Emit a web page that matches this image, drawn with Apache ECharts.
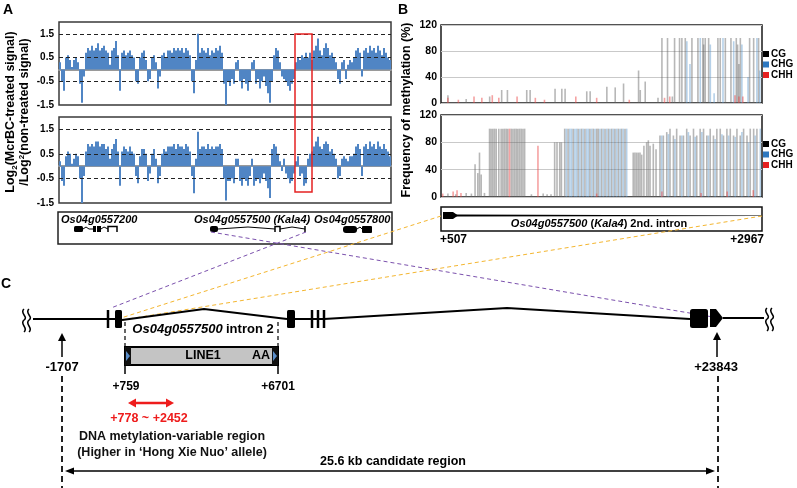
<!DOCTYPE html>
<html><head><meta charset="utf-8">
<script src="https://cdn.jsdelivr.net/npm/echarts@6/dist/echarts.min.js"></script>
<style>html,body{margin:0;padding:0;background:#fff}#c{width:797px;height:488px}</style>
</head><body><div id="c"></div>
<script>
// ---------- DATA ----------
const aTicks = [-1.5, -0.5, 0.5, 1.5];
const aTop = [
0.3,-0.5,-0.9,0.5,0.6,0.4,0.1,0.4,0.5,0.3,
-0.6,-1.4,-0.3,0.7,0.9,0.8,1.0,0.8,0.9,1.1,
0.8,0.9,1.0,0.8,0.7,0.2,0.8,0.9,1.2,0.6,
-0.9,0.7,0.8,0.6,0.7,0.8,0.6,0.5,-0.5,-0.6,
0.5,0.7,0.8,0.4,-0.5,-0.4,0.5,0.6,0.3,-0.8,
-0.3,0.6,0.7,0.5,0.8,
0.8,0.7,0.9,0.8,0.9,0.8,0.9,0.7,0.9,0.8,
0.6,-0.5,-1.0,0.4,1.5,0.7,0.9,0.8,0.7,0.9,
0.6,0.8,0.7,0.9,0.8,1.0,0.7,-0.6,-1.5,-0.5,
-0.7,-0.4,-0.6,0.3,0.4,-0.5,-0.8,-0.4,-0.6,-0.9,
-0.5,0.3,0.4,-0.6,-0.4,-0.8,-0.5,-0.3,-0.7,-1.0,
-1.4,-0.5,0.6,0.9,0.8,
0.3,-0.3,-0.4,-0.5,-0.7,-0.9,-0.6,-0.4,0.3,0.5,
0.4,0.6,0.5,0.7,0.5,0.7,0.4,0.8,1.0,1.3,
0.8,0.6,0.9,1.1,0.9,0.6,0.7,0.5,0.3,-0.4,
-0.6,0.3,0.4,-0.4,0.2,0.4,0.3,0.5,0.8,0.9,
0.7,-0.3,0.8,0.9,0.7,1.0,0.8,0.9,0.7,1.0,
0.8,0.6,0.9,0.7,0.5,0.4
];
const aBot = [
0.2,-0.6,-0.8,0.4,0.6,0.5,0.1,0.3,0.5,0.4,
-0.5,-1.5,-0.4,0.6,0.9,0.8,0.9,0.8,1.0,1.0,
0.8,0.9,0.9,0.7,0.8,0.3,0.7,0.9,1.1,0.6,
-0.8,0.6,0.8,0.7,0.6,0.8,0.6,0.5,-0.4,-0.7,
0.4,0.7,0.7,0.5,-0.6,-0.3,0.5,0.7,0.3,-0.7,
-0.4,0.5,0.7,0.6,0.8,
0.8,0.8,0.9,0.7,0.9,0.8,0.8,0.7,0.9,0.8,
0.6,-0.4,-1.1,0.3,1.4,0.7,0.8,0.8,0.7,0.9,
0.7,0.8,0.7,0.8,0.8,0.9,0.7,-0.5,-1.4,-0.6,
-0.6,-0.5,-0.7,0.3,0.3,-0.6,-0.8,-0.5,-0.6,-0.8,
-0.4,0.3,-0.8,-0.6,-0.5,-0.7,-0.5,-0.3,-0.6,-0.9,
-1.3,0.7,0.9,0.8,0.5,
0.2,-0.2,0.3,-0.3,-0.5,-0.7,-0.6,-0.3,
0.2,0.4,-0.4,-0.3,-0.8,-0.7,0.3,0.5,0.6,
0.8,1.0,1.2,0.8,0.7,0.9,1.0,0.9,0.6,0.7,
0.5,0.3,-0.5,-0.4,0.3,0.4,0.3,0.2,0.4,0.4,
0.5,0.8,0.9,0.7,-0.4,0.8,0.9,0.7,1.0,0.8,
0.9,0.7,1.0,0.8,0.7,0.9,0.7,0.6,0.4
];
const bRange = [507, 2967];
const bTicks = [0, 40, 80, 120];
const contexts = ['CG', 'CHG', 'CHH'];
const cgTop = [[560,12],[700,6],[880,10],[972,20],[1016,20],[1164,20],[1190,20],[1381,22],[1433,22],[1458,22],[1624,18],[1650,18],[1778,25],[1842,24],[1906,30],[2021,50],[2034,20],[2072,33],[2170,8],[2200,100],[2243,100],[2280,10],[2297,100],[2335,100],[2353,100],[2379,100],[2430,100],[2476,100],[2514,100],[2520,90],[2532,100],[2558,100],[2629,100],[2647,100],[2686,100],[2729,100],[2770,100],[2780,90],[2790,60],[2801,100],[2872,100],[2903,100],[2941,100]];
const chgTop = [[2391,95],[2415,60],[2494,100],[2571,90],[2600,15],[2668,100],[2750,95],[2813,90],[2860,40],[2928,100],[2950,50]];
const chhTop = [[560,8],[640,5],[760,10],[820,8],[900,12],[950,8],[1090,10],[1230,8],[1300,5],[1540,10],[1700,8],[1950,5],[2220,8],[2260,10],[2760,12],[2790,10],[2820,10]];
const cgBot = [[560,5],[620,4],[700,6],[740,5],[768,48],[789,35],[802,65],[815,33],[840,6],
[879,100],[891,100],[904,100],[917,100],[930,100],[950,100],[968,100],[981,100],[994,100],[1007,100],[1019,100],[1045,100],[1058,100],[1071,100],[1084,100],[1096,100],[1109,100],[1122,100],[1135,100],[1148,100],
[1200,4],[1290,5],[1320,4],[1350,4],[1378,80],[1396,80],[1417,80],[1430,80],
[1455,100],[1481,100],[1520,100],[1558,100],[1584,100],[1610,100],[1648,100],[1674,100],[1700,100],[1712,100],[1738,100],[1764,100],[1790,100],[1815,100],[1840,100],[1866,100],[1891,100],[1917,100],
[1980,65],[1993,65],[2006,65],[2019,65],[2032,65],[2045,62],[2062,75],[2083,80],[2096,83],[2109,75],[2134,78],[2155,70],
[2185,90],[2211,90],[2237,95],[2262,100],[2288,90],[2313,100],[2339,90],[2365,90],[2390,100],[2416,90],[2442,100],[2467,90],[2493,100],[2519,100],[2544,90],[2570,100],[2595,90],[2621,100],[2647,100],[2672,90],[2698,100],[2724,100],[2749,90],[2775,100],[2800,90],[2826,100],[2852,90],[2877,100],[2903,100],[2928,100]];
const chgBot = [[1468,100],[1494,100],[1507,100],[1533,100],[1546,100],[1571,100],[1597,100],[1623,100],[1636,100],[1661,100],[1687,100],[1725,100],[1751,100],[1777,100],[1802,100],[1828,100],[1853,100],[1879,100],[1904,100],[1930,100],
[2198,90],[2250,92],[2300,85],[2352,90],[2403,95],[2455,88],[2506,95],[2557,90],[2608,85],[2660,92],[2711,90],[2762,88],[2813,95],[2864,80],[2915,90],[2954,100]];
const chhBot = [[520,5],[600,8],[630,10],[660,6],[1032,100],[1250,75],[1700,5],[2200,8],[2500,6],[2700,8],[2900,10]];
const geneNames = ['Os04g0557200', 'Os04g0557500 (Kala4)', 'Os04g0557800'];
const coordLabels = ['+507', '+2967', '-1707', '+23843', '+759', '+6701'];

// ---------- RENDER ----------
const F = '"Liberation Sans", Arial, sans-serif';
const aBins = aTop.map((_, i) => i);
const chart = echarts.init(document.getElementById('c'), null, {renderer: 'canvas'});

const G = [];
const st = (base, s) => Object.assign(base, s || {});
const L = (x1,y1,x2,y2,s) => G.push({type:'line', silent:true, z:10, shape:{x1,y1,x2,y2}, style:st({stroke:'#000', lineWidth:1}, s)});
const T = (x,y,t,s,extra) => G.push(Object.assign({type:'text', silent:true, z:12, x, y, style:st({text:t, fill:'#000', font:'bold 12px '+F, textAlign:'center', textVerticalAlign:'middle', align:'center', verticalAlign:'middle'}, s)}, extra || {}));
const R = (x,y,w,h,s,r) => G.push({type:'rect', silent:true, z:10, shape:{x,y,width:w,height:h,r:r||0}, style:st({fill:'#000'}, s)});
const P = (pts,s) => G.push({type:'polygon', silent:true, z:10, shape:{points:pts}, style:st({fill:'#000'}, s)});
const PL = (pts,s) => G.push({type:'polyline', silent:true, z:10, shape:{points:pts}, style:st({stroke:'#000', lineWidth:1, fill:null}, s)});
const BZ = (x1,y1,c1x,c1y,c2x,c2y,x2,y2,s) => G.push({type:'bezierCurve', silent:true, z:10, shape:{x1,y1,cpx1:c1x,cpy1:c1y,cpx2:c2x,cpy2:c2y,x2,y2}, style:st({stroke:'#000', lineWidth:1.5, fill:null}, s)});
const head = (xt,yt,dx,dy,len,w,color) => {
  const bx = xt-dx*len, by = yt-dy*len, px = -dy, py = dx;
  P([[xt,yt],[bx+px*w/2,by+py*w/2],[bx-px*w/2,by-py*w/2]], {fill:color});
};
const squiggle = (x, y) => {
  BZ(x,y-11,x-5,y-7,x+5,y-3,x,y, {});
  BZ(x,y,x-5,y+4,x+5,y+8,x,y+12, {});
};

// panel letters
T(3,3,'A',{font:'bold 14px '+F, textAlign:'left', align:'left', textVerticalAlign:'top', verticalAlign:'top'});
T(398,3,'B',{font:'bold 14px '+F, textAlign:'left', align:'left', textVerticalAlign:'top', verticalAlign:'top'});
T(1,277,'C',{font:'bold 14px '+F, textAlign:'left', align:'left', textVerticalAlign:'top', verticalAlign:'top'});

// A titles
const richA = {n:{font:'bold 12.5px '+F, fill:'#000', lineHeight:15}, s:{font:'bold 8px '+F, fill:'#000', verticalAlign:'bottom'}, p:{font:'bold 8px '+F, fill:'#000', verticalAlign:'top'}};
T(11,112,'{n|Log}{s|2}{n|(McrBC-treated signal)}',{rich:richA},{rotation:Math.PI/2});
T(25,112,'{n|/Log}{p|2}{n|(non-treated signal)}',{rich:richA},{rotation:Math.PI/2});
// B title
T(407,110,'Frequency of methylation (%)',{font:'bold 12.5px '+F},{rotation:Math.PI/2});

// red box
R(295,34,17,158,{fill:null, stroke:'#e52222', lineWidth:1.5});

// gene box A
R(58,212,334,32,{fill:null, stroke:'#222', lineWidth:1.5});
T(61,220,geneNames[0],{font:'italic bold 11px '+F, textAlign:'left', align:'left'});
T(194,220,geneNames[1],{font:'italic bold 11px '+F, textAlign:'left', align:'left'});
T(314,220,geneNames[2],{font:'italic bold 11px '+F, textAlign:'left', align:'left'});
R(74,226,9,6,{},1.5); PL([[83,229],[86,227],[89,229],[93,229]]); R(93,226,3,6); R(97,226,4,6);
PL([[101,229],[104,227],[108,229]]); PL([[108,232],[108,226.5],[117,226.5],[117,232]],{lineWidth:1.5});
R(210,226,8,6,{},2); PL([[218,229],[248,227],[275,229]]);
PL([[275,232],[275,226.5],[280,226.5],[280,232]],{lineWidth:1.5}); PL([[280,229],[292,227],[305,229]]);
L(305,226,305,232,{lineWidth:1.5});
R(343,226,14,7,{},3); PL([[357,229],[360,227],[362,229]]); R(362,226,10,7,{},1);

// B intron box
R(441,207,321,24,{fill:null, stroke:'#111', lineWidth:1.5});
P([[443,212],[453,212],[458,215.5],[453,219],[443,219]]);
P([[456,214.6],[762,215.4],[762,215.9],[456,216.6]]);
T(599,224,'{i|Os04g0557500} {n|(}{i|Kala4}{n|) 2nd. intron}',{rich:{i:{font:'italic bold 11px '+F, fill:'#000'}, n:{font:'bold 11px '+F, fill:'#000'}}});
T(440,240,coordLabels[0],{textAlign:'left', align:'left'});
T(764,240,coordLabels[1],{textAlign:'right', align:'right'});

// connecting dashed lines
const PUR = '#7b51ad', YEL = '#f4b630';
L(211,232,719,318,{stroke:PUR, lineDash:[4,3]});
L(306,232,111,308,{stroke:PUR, lineDash:[4,3]});
L(441,216,121,318,{stroke:YEL, lineDash:[4,3]});
L(762,216,122,320,{stroke:YEL, lineDash:[4,3]});

// C gene structure
squiggle(24,320); squiggle(29,320);
L(33,319,108,319,{lineWidth:2});
L(108,310,108,328,{lineWidth:2.5});
L(108,319,115,319,{lineWidth:2});
R(115,310,7,18,{},1.5);
PL([[122,320],[204,309],[287,319]],{lineWidth:2});
R(287,310,8,18,{},1.5);
L(295,319,324,319,{lineWidth:2});
L(312,310,312,328,{lineWidth:2.5}); L(318,310,318,328,{lineWidth:2.5}); L(324,310,324,328,{lineWidth:2.5});
PL([[324,319],[507,308],[690,319]],{lineWidth:2});
R(690,309,18,19,{},2.5);
P([[710,309],[716,309],[723,318],[716,327],[710,327]]);
L(723,318,764,318,{lineWidth:2});
squiggle(767,319); squiggle(772,319);

// intron 2 / LINE1
L(125,322,125,347,{lineDash:[4,3], lineWidth:1.2});
L(278,322,278,347,{lineDash:[4,3], lineWidth:1.2});
T(203,329,'{i|Os04g0557500} {n|intron 2}',{rich:{i:{font:'italic bold 13px '+F, fill:'#000'}, n:{font:'bold 13px '+F, fill:'#000'}}});
R(125,347,153,18,{fill:'#c4c4c4', stroke:'#000', lineWidth:2});
R(125,347,6,18,{fill:'#111'}); R(272,347,6,18,{fill:'#111'});
P([[126,351],[130,356],[126,361]],{fill:'#5b8ec9'});
P([[273,351],[277,356],[273,361]],{fill:'#5b8ec9'});
T(203,356,'LINE1',{font:'bold 12.5px '+F});
T(261,356,'AA',{font:'bold 12.5px '+F});
L(125,365,125,374,{lineWidth:1.5}); L(278,365,278,374,{lineWidth:1.5});
T(126,387,coordLabels[4]); T(278,387,coordLabels[5]);
const RED = '#ee1c1c';
L(134,403,168,403,{stroke:RED, lineWidth:2.5});
head(128,403,-1,0,8,9,RED); head(174,403,1,0,8,9,RED);
T(149,419,'+778 ~ +2452',{fill:RED, font:'bold 12.5px '+F});
T(172,437,'DNA metylation-variable region',{font:'bold 12.5px '+F, fill:'#111'});
T(172,453,'(Higher in \u2018Hong Xie Nuo\u2019 allele)',{font:'bold 12.5px '+F, fill:'#111'});

// -1707 / +23843
T(62,367,coordLabels[2],{font:'bold 13px '+F});
L(62,357,62,340,{lineWidth:1.5}); head(62,333,0,-1,8,8,'#000');
L(62,376,62,488,{lineWidth:2, lineDash:[6,4], stroke:'#222'});
T(716,367,coordLabels[3],{font:'bold 13px '+F});
L(717,357,717,339,{lineWidth:1.5}); head(717,332,0,-1,8,8,'#000');
L(718,376,718,488,{lineWidth:2, lineDash:[6,4], stroke:'#222'});
// candidate region arrow
L(70,471,710,471,{lineWidth:1.3});
head(65,471,-1,0,9,7,'#000'); head(715,471,1,0,9,7,'#000');
T(393,462,'25.6 kb candidate region',{font:'bold 12.5px '+F});

// ---------- chart option ----------
const aYAxis = (gi) => ({
  type:'value', gridIndex:gi, min:-1.5, max:2,
  axisLine:{show:false}, axisTick:{show:false}, splitLine:{show:false},
  axisLabel:{customValues:aTicks, fontSize:10, fontWeight:'bold', color:'#000', fontFamily:F, margin:5}
});
const aXAxis = (gi) => ({
  type:'category', gridIndex:gi, data:aBins, boundaryGap:true,
  axisLine:{onZero:true, lineStyle:{color:'#9a9a9a', width:2}}, axisTick:{show:false}, axisLabel:{show:false}
});
const bYAxis = (gi) => ({
  type:'value', gridIndex:gi, min:0, max:120, interval:40,
  axisLine:{show:false}, axisTick:{show:false},
  splitLine:{lineStyle:{color:'#c9c9c9', width:1}},
  axisLabel:{fontSize:10.5, fontWeight:'bold', color:'#000', fontFamily:F, margin:4}
});
const bXAxis = (gi) => ({type:'value', gridIndex:gi, min:bRange[0], max:bRange[1], show:false});
const aSeries = (idx, data) => ({
  type:'bar', xAxisIndex:idx, yAxisIndex:idx, data, barCategoryGap:'0%',
  itemStyle:{color:'#5085c4'}, silent:true,
  markLine:{silent:true, symbol:'none', label:{show:false}, animation:false,
    lineStyle:{type:[4,3], color:'#222', width:1},
    data:aTicks.slice(1).map(v => ({yAxis:v}))}
});
const cols = {CG:'rgba(95,95,95,0.45)', CHG:'rgba(90,150,205,0.45)', CHH:'rgba(235,70,70,0.5)'};
const bSeries = (idx, name, data) => ({
  type:'bar', name, xAxisIndex:idx, yAxisIndex:idx, data, barWidth:1.6, barGap:'-100%',
  itemStyle:{color:cols[name]}, silent:true
});
const legendData = [
  {name:contexts[0], itemStyle:{color:'#000'}},
  {name:contexts[1], itemStyle:{color:'#2e78c0'}},
  {name:contexts[2], itemStyle:{color:'#e52020'}}
];
const legendBase = (top) => ({
  data:legendData, orient:'vertical', left:763, top, padding:0,
  itemWidth:6, itemHeight:6, itemGap:0.5, selectedMode:false, icon:'rect',
  textStyle:{fontSize:10, fontWeight:'bold', color:'#000', fontFamily:F, lineHeight:10, padding:[0,0,0,-3]}
});

chart.setOption({
  animation:false,
  backgroundColor:'#fff',
  grid:[
    {left:59, top:22, width:332, height:83, show:true, borderColor:'#3a3a3a', borderWidth:1.5, backgroundColor:'transparent'},
    {left:59, top:117, width:332, height:86, show:true, borderColor:'#3a3a3a', borderWidth:1.5, backgroundColor:'transparent'},
    {left:441, top:25, width:321, height:78, show:true, borderColor:'#1a1a1a', borderWidth:1.5, backgroundColor:'transparent'},
    {left:441, top:115, width:321, height:82, show:true, borderColor:'#1a1a1a', borderWidth:1.5, backgroundColor:'transparent'}
  ],
  xAxis:[aXAxis(0), aXAxis(1), bXAxis(2), bXAxis(3)],
  yAxis:[aYAxis(0), aYAxis(1), bYAxis(2), bYAxis(3)],
  legend:[legendBase(49), legendBase(139)],
  series:[
    aSeries(0, aTop), aSeries(1, aBot),
    bSeries(2,'CG',cgTop), bSeries(2,'CHG',chgTop), bSeries(2,'CHH',chhTop),
    bSeries(3,'CG',cgBot), bSeries(3,'CHG',chgBot), bSeries(3,'CHH',chhBot)
  ],
  graphic:{elements:G}
});
</script></body></html>
